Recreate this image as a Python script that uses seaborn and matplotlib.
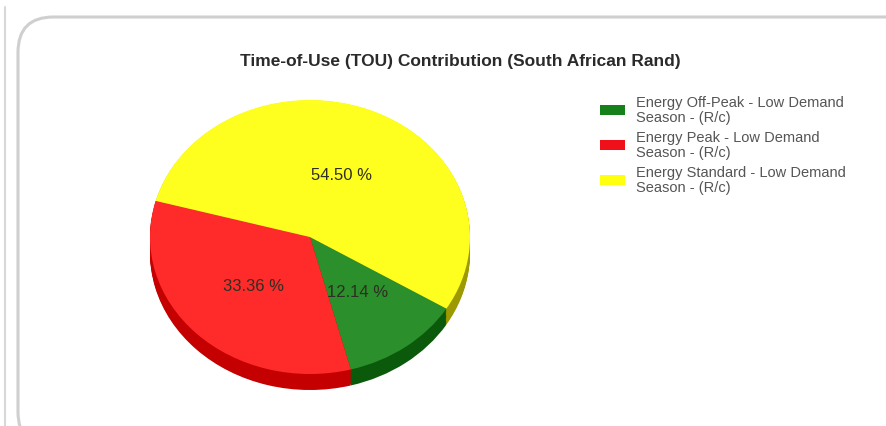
import numpy as np
import matplotlib
matplotlib.use("Agg")
import matplotlib.pyplot as plt
from matplotlib.patches import FancyBboxPatch, Patch
from matplotlib.lines import Line2D
import seaborn as sns

# ---- data ----
categories = [
    "Energy Off-Peak - Low Demand\nSeason - (R/c)",
    "Energy Peak - Low Demand\nSeason - (R/c)",
    "Energy Standard - Low Demand\nSeason - (R/c)",
]
shares = [12.14, 33.36, 54.50]
title = "Time-of-Use (TOU) Contribution (South African Rand)"

sns.set_style("white")
plt.rcParams["font.family"] = ["Liberation Sans", "DejaVu Sans"]

top_colors = sns.color_palette(["#2b8f2b", "#ff2b2b", "#ffff1f"])
side_colors = sns.color_palette(["#0b5a0b", "#c40000", "#9c9a00"])
legend_colors = ["#16801a", "#f0101a", "#ffff10"]

W, H = 887, 427
fig = plt.figure(figsize=(W / 100, H / 100), dpi=100)
fig.patch.set_facecolor("white")

# background panel
fig.add_artist(Line2D([5 / W, 5 / W], [0, 1 - 8 / H], transform=fig.transFigure,
                      color="#d8d8d8", lw=1.5, zorder=-5))
panel = FancyBboxPatch((18 / W, -0.05), (W + 40) / W, (H - 18) / H + 0.05,
                       boxstyle="round,pad=0,rounding_size=0.04",
                       transform=fig.transFigure, facecolor="white",
                       edgecolor="#cfcfcf", lw=2.2, mutation_aspect=W / H,
                       zorder=-5)
fig.add_artist(panel)

# pie axes: x radius 160 px, y radius 137 px, center at (310, 238) px from top
cx, cy = 310, H - 238
rx, ry = 160, 137
depth = 16
ax = fig.add_axes([(cx - rx) / W, (cy - ry - depth - 2) / H, 2 * rx / W,
                   (2 * ry + depth + 2) / H])
ax.patch.set_alpha(0)
start = -31.5
dmax = depth / ry
for d in np.linspace(dmax, 0.004, 14):
    ax.pie(shares, colors=side_colors, startangle=start, counterclock=False,
           center=(0, -d), wedgeprops=dict(linewidth=0))
wedges, texts, autotexts = ax.pie(
    shares, colors=top_colors, startangle=start, counterclock=False,
    autopct="%.2f %%", pctdistance=0.5,
    wedgeprops=dict(linewidth=0),
    textprops=dict(color="#2e2e22", fontsize=12))
ax.set_aspect("auto")
ax.set_xlim(-1, 1)
ax.set_ylim(-1 - (depth + 2) / ry, 1)
ax.axis("off")

fig.text(460 / W, 1 - 62 / H, title, ha="center", va="center",
         fontsize=12.5, fontweight="bold", color="#2a2a2a")

handles = [Patch(facecolor=c, edgecolor="none") for c in legend_colors]
leg = fig.legend(handles, categories, loc="upper left",
                 bbox_to_anchor=(594 / W, 1 - 90 / H), frameon=False,
                 fontsize=10.5, labelcolor="#555555", handlelength=1.75,
                 handleheight=0.7, handletextpad=0.75, labelspacing=0.42,
                 borderaxespad=0)
for t in leg.get_texts():
    t.set_linespacing(1.08)

fig.savefig("out.png", dpi=100, facecolor="white")
